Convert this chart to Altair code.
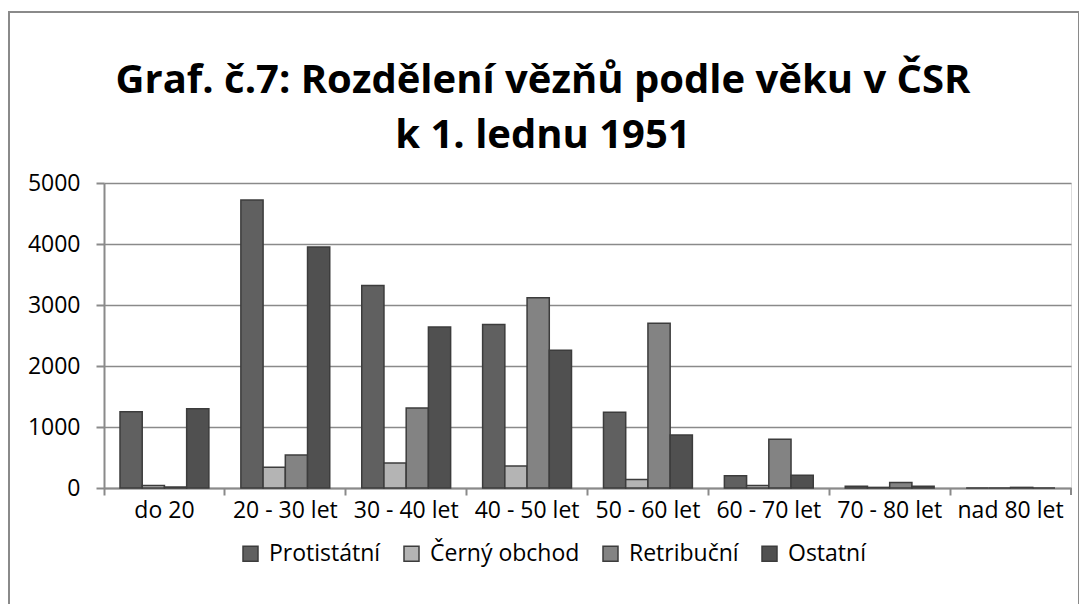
import altair as alt
import pandas as pd

categories = ["do 20", "20 - 30 let", "30 - 40 let", "40 - 50 let",
              "50 - 60 let", "60 - 70 let", "70 - 80 let", "nad 80 let"]
series = ["Protistátní", "Černý obchod", "Retribuční", "Ostatní"]
protistatni = [1250, 4720, 3320, 2680, 1240, 200, 30, 0]
cerny_obchod = [40, 340, 410, 360, 140, 40, 10, 0]
retribucni = [15, 540, 1310, 3120, 2700, 800, 90, 10]
ostatni = [1300, 3950, 2640, 2260, 870, 210, 30, 0]
colors = ["#606060", "#b4b4b4", "#838383", "#505050"]
y_ticks = [0, 1000, 2000, 3000, 4000, 5000]
title_line1 = "Graf. č.7: Rozdělení vězňů podle věku v ČSR"
title_line2 = "k 1. lednu 1951"

rows = []
for name, vals in zip(series, [protistatni, cerny_obchod, retribucni, ostatni]):
    for cat, v in zip(categories, vals):
        rows.append({"Věk": cat, "Kategorie": name, "Počet": v})
df = pd.DataFrame(rows)

W, H = 967, 305
FONT = "Open Sans"
GRID = "#8a8a8a"

bars = alt.Chart(df).mark_bar(stroke="#3c3c3c", strokeWidth=1.5).encode(
    x=alt.X("Věk:N", sort=categories,
            scale=alt.Scale(paddingInner=0, paddingOuter=0),
            axis=alt.Axis(title=None, bandPosition=0,
                          labelAngle=0, labelFont=FONT, labelFontSize=23,
                          labelColor="black", labelPadding=4,
                          tickSize=7, tickColor=GRID, tickWidth=2,
                          domainColor=GRID, domainWidth=2, grid=False)),
    xOffset=alt.XOffset("Kategorie:N", sort=series,
                        scale=alt.Scale(paddingInner=0, paddingOuter=0.72)),
    y=alt.Y("Počet:Q", scale=alt.Scale(domain=[0, 5000], nice=False),
            axis=alt.Axis(title=None, values=y_ticks, format="d",
                          labelFont=FONT,
                          labelFontSize=23, labelColor="black",
                          labelPadding=16, tickSize=8, tickColor=GRID,
                          tickWidth=2, domainColor=GRID, domainWidth=2,
                          grid=True, gridColor=GRID, gridWidth=1.5)),
    color=alt.Color("Kategorie:N", sort=series,
                    scale=alt.Scale(domain=series, range=colors),
                    legend=alt.Legend(title=None, orient="none",
                                      direction="horizontal",
                                      legendX=135, legendY=359,
                                      symbolType="square", symbolSize=225,
                                      symbolStrokeColor="#3c3c3c",
                                      symbolStrokeWidth=1.5,
                                      labelFont=FONT, labelFontSize=23,
                                      labelColor="black", labelOffset=7,
                                      columnPadding=19, padding=0)),
)

one = pd.DataFrame({"a": [0]})

end_tick = alt.Chart(one).mark_rule(color=GRID, strokeWidth=2).encode(
    x=alt.value(W), y=alt.value(H), y2=alt.value(H + 7))

border = alt.Chart(one).mark_rect(
    fillOpacity=0, stroke="#8a8a8a", strokeWidth=2).encode(
    x=alt.value(-95), x2=alt.value(975), y=alt.value(-171), y2=alt.value(440))

title1 = alt.Chart(one).mark_text(
    font=FONT, fontSize=40, fontWeight="bold", color="black",
    align="center", baseline="middle").encode(
    text=alt.value(title_line1), x=alt.value(439), y=alt.value(-102))

title2 = alt.Chart(one).mark_text(
    font=FONT, fontSize=40, fontWeight="bold", color="black",
    align="center", baseline="middle").encode(
    text=alt.value(title_line2), x=alt.value(439), y=alt.value(-47))

chart = alt.layer(border, title1, title2, bars, end_tick).properties(
    width=W, height=H,
    autosize=alt.AutoSizeParams(type="none"),
    padding={"left": 96, "top": 175, "right": 8, "bottom": 116},
).configure_view(fill="#e6e6e6", stroke=None).configure(background="white")

chart.save("out.html", embed_options={"renderer": "svg", "actions": False})
